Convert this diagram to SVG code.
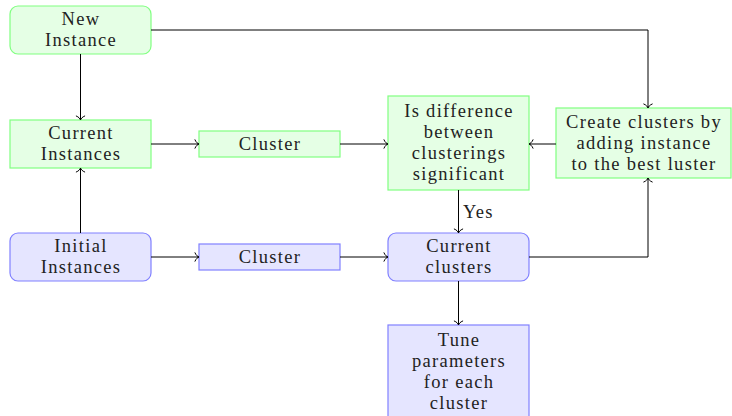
<svg xmlns="http://www.w3.org/2000/svg" width="732" height="416" viewBox="0 0 732 416">
<defs>
<marker id="arr" markerUnits="userSpaceOnUse" markerWidth="12" markerHeight="12" viewBox="-6 -6 12 12" refX="0" refY="0" orient="auto">
<path d="M-4,-4.2 C-3,-1.6 -1.2,-0.4 0,0 C-1.2,0.4 -3,1.6 -4,4.2" fill="none" stroke="#000" stroke-width="1" stroke-linecap="round"/>
</marker>
</defs>
<style>
.g{fill:#e5ffe5;stroke:#80ff80;stroke-width:1.2}
.b{fill:#e5e5ff;stroke:#8080ff;stroke-width:1.2}
text{font-family:"Liberation Serif","Times New Roman",serif;font-size:18.5px;fill:#222;text-anchor:middle;letter-spacing:1.3px}
.c line,.c polyline{fill:none;stroke:#000;stroke-width:1;marker-end:url(#arr)}
</style>
<g id="new-instance"><rect class="g" x="10" y="6" width="141" height="48" rx="8"/><text x="81" y="25">New</text><text x="81" y="46">Instance</text></g>
<g id="current-instances"><rect class="g" x="10" y="120" width="141" height="48"/><text x="81" y="139">Current</text><text x="81" y="160">Instances</text></g>
<g id="cluster-green"><rect class="g" x="199" y="131" width="141" height="26"/><text x="270" y="150">Cluster</text></g>
<g id="is-difference"><rect class="g" x="388" y="96" width="141" height="94"/><text x="459" y="117">Is difference</text><text x="459" y="138">between</text><text x="459" y="159">clusterings</text><text x="459" y="180">significant</text></g>
<g id="create-clusters"><rect class="g" x="556" y="108" width="175" height="70"/><text x="644" y="128">Create clusters by</text><text x="644" y="149">adding instance</text><text x="644" y="170">to the best luster</text></g>
<g id="initial-instances"><rect class="b" x="10" y="233" width="141" height="48" rx="8"/><text x="81" y="252">Initial</text><text x="81" y="273">Instances</text></g>
<g id="cluster-blue"><rect class="b" x="199" y="244" width="141" height="26"/><text x="270" y="263">Cluster</text></g>
<g id="current-clusters"><rect class="b" x="388" y="233" width="141" height="48" rx="8"/><text x="459" y="252">Current</text><text x="459" y="273">clusters</text></g>
<g id="tune"><rect class="b" x="388" y="325" width="141" height="95"/><text x="459" y="346">Tune</text><text x="459" y="367">parameters</text><text x="459" y="388">for each</text><text x="459" y="409">cluster</text></g>
<g id="connectors" class="c">
<line x1="80.5" y1="54" x2="80.5" y2="120"/>
<line x1="80.5" y1="233" x2="80.5" y2="168"/>
<line x1="151" y1="144" x2="199" y2="144"/>
<line x1="340" y1="144" x2="388" y2="144"/>
<line x1="556" y1="144" x2="529" y2="144"/>
<polyline points="151,30 648,30 648,108"/>
<line x1="458.5" y1="190" x2="458.5" y2="233"/>
<polyline points="529,257 648,257 648,178"/>
<line x1="151" y1="257" x2="199" y2="257"/>
<line x1="340" y1="257" x2="388" y2="257"/>
<line x1="458.5" y1="281" x2="458.5" y2="325"/>
</g>
<text x="463" y="218" style="text-anchor:start">Yes</text>
</svg>
